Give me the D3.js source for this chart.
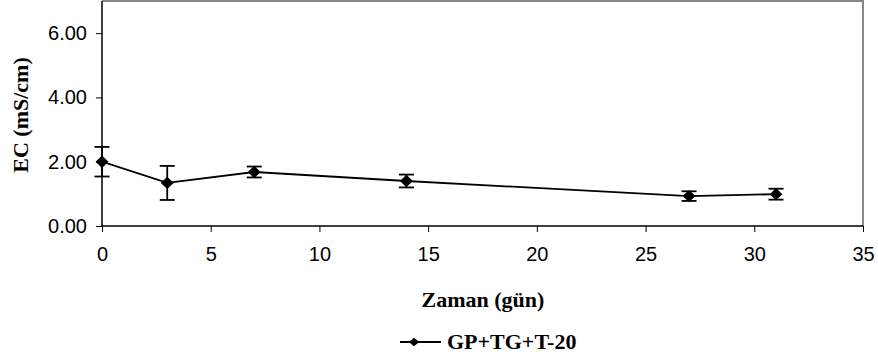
<!DOCTYPE html>
<html>
<head>
<meta charset="UTF-8">
<style>
  body { margin: 0; background: #fff; }
  svg { display: block; }
  .tick text { font-family: "Liberation Sans", Arial, sans-serif; font-size: 20px; fill: #000; }
  .lbl { font-family: "Liberation Serif", "Times New Roman", serif; font-weight: bold; font-size: 22px; }
</style>
<script src="https://d3js.org/d3.v7.min.js"></script>
</head>
<body>
<svg id="chart" width="878" height="362"></svg>
<script>
  // days, mean EC and error
  const days = [0, 3, 7, 14, 27, 31];
  const ecMean = [2.00, 1.34, 1.68, 1.40, 0.93, 0.99];
  const ecErr = [0.46, 0.53, 0.17, 0.20, 0.15, 0.17];
  const xTicks = [0, 5, 10, 15, 20, 25, 30, 35];
  const yTicks = [0, 2, 4, 6];
  const seriesName = 'GP+TG+T-20';

  const svg = d3.select('#chart');
  const m = { left: 102, right: 863, top: 1, bottom: 226 };

  const x = d3.scaleLinear().domain([0, 35]).range([m.left, m.right]);
  const y = d3.scaleLinear().domain([0, 7]).range([m.bottom, m.top]);

  // plot frame (gray top/right)
  svg.append('path')
    .attr('d', `M${m.left},${m.top}H${m.right}V${m.bottom}`)
    .attr('fill', 'none').attr('stroke', '#888').attr('stroke-width', 2);

  const xAxis = svg.append('g').attr('transform', `translate(0,${m.bottom})`)
    .call(d3.axisBottom(x).tickValues(xTicks).tickSize(6).tickPadding(15).tickFormat(d3.format('d')));
  xAxis.select('.domain').attr('d', `M${m.left},0H${m.right}`).attr('stroke', '#000').attr('stroke-width', 1.5);

  const yAxis = svg.append('g').attr('transform', `translate(${m.left},0)`)
    .call(d3.axisLeft(y).tickValues(yTicks).tickSize(6).tickPadding(9).tickFormat(d3.format('.2f')));
  yAxis.select('.domain').attr('d', `M0,${m.top}V${m.bottom}`).attr('stroke', '#000').attr('stroke-width', 1.5);
  svg.selectAll('.tick line').attr('stroke', '#000');

  const pts = days.map((d, i) => ({ d, v: ecMean[i], e: ecErr[i] }));

  svg.append('path').datum(pts)
    .attr('fill', 'none').attr('stroke', '#000').attr('stroke-width', 1.8)
    .attr('d', d3.line().x(p => x(p.d)).y(p => y(p.v)));

  const eb = svg.append('g').attr('stroke', '#000').attr('stroke-width', 1.8);
  pts.forEach(p => {
    const cx = x(p.d);
    eb.append('line').attr('x1', cx).attr('x2', cx).attr('y1', y(p.v + p.e)).attr('y2', y(p.v - p.e));
    eb.append('line').attr('x1', cx - 7.5).attr('x2', cx + 7.5).attr('y1', y(p.v + p.e)).attr('y2', y(p.v + p.e));
    eb.append('line').attr('x1', cx - 7.5).attr('x2', cx + 7.5).attr('y1', y(p.v - p.e)).attr('y2', y(p.v - p.e));
  });

  const diamond = d3.symbol().type(d3.symbolDiamond).size(44);
  svg.append('g').selectAll('path').data(pts).join('path')
    .attr('d', diamond)
    .attr('transform', p => `translate(${x(p.d)},${y(p.v)}) scale(1.8,1)`)
    .attr('fill', '#000');

  // axis titles
  svg.append('text').attr('class', 'lbl')
    .attr('transform', 'translate(28,115) rotate(-90)')
    .attr('text-anchor', 'middle').text('EC (mS/cm)');
  svg.append('text').attr('class', 'lbl')
    .attr('x', 483).attr('y', 307).attr('text-anchor', 'middle').text('Zaman (gün)');

  // legend
  const lg = svg.append('g').attr('transform', 'translate(400,342)');
  lg.append('line').attr('x1', 0).attr('x2', 41).attr('stroke', '#000').attr('stroke-width', 1.8);
  lg.append('path').attr('d', d3.symbol().type(d3.symbolDiamond).size(30))
    .attr('transform', 'translate(14,0) scale(1.8,0.85)').attr('fill', '#000');
  lg.append('text').attr('class', 'lbl').attr('x', 47).attr('y', 7).text(seriesName);
</script>
</body>
</html>
